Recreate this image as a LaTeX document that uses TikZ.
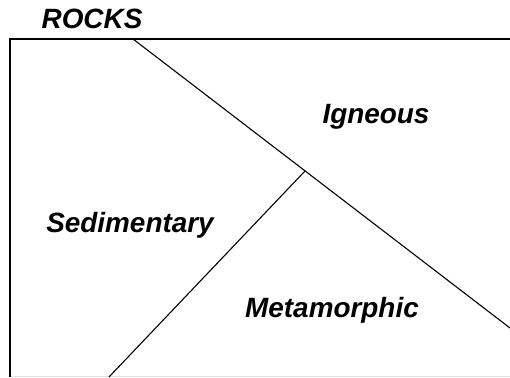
\documentclass[tikz,border=0pt]{standalone}
\usepackage{fontspec}
\setmainfont{Liberation Sans}
\begin{document}
\begin{tikzpicture}[x=1bp,y=-1bp,
  edge/.style={line width=1.1bp,black},
  label/.style={font=\fontsize{28}{32}\selectfont\bfseries\itshape,anchor=base,inner sep=0pt}]
\useasboundingbox (0,0) rectangle (510,377);
\coordinate (bl) at (10,377);
\coordinate (tl) at (10,39);
\coordinate (tr) at (510,39);
\coordinate (ds) at (133,39);
\coordinate (de) at (510,328);
\coordinate (j) at (305,171);
\coordinate (me) at (109,377);
\coordinate (br) at (510,376);
\coordinate (bb) at (10,376);
\draw[line width=0.8bp,black!12] (bb) -- (br);
\draw[edge] (bl) -- (tl) -- (tr);
\draw[edge] (ds) -- (de);
\draw[edge] (j) -- (me);
\node[label] (rocks) at (92,28) {ROCKS};
\node[label] (ign) at (376,123) {Igneous};
\node[label] (sed) at (130,232) {Sedimentary};
\node[label] (met) at (332,317) {Metamorphic};
\end{tikzpicture}
\end{document}
